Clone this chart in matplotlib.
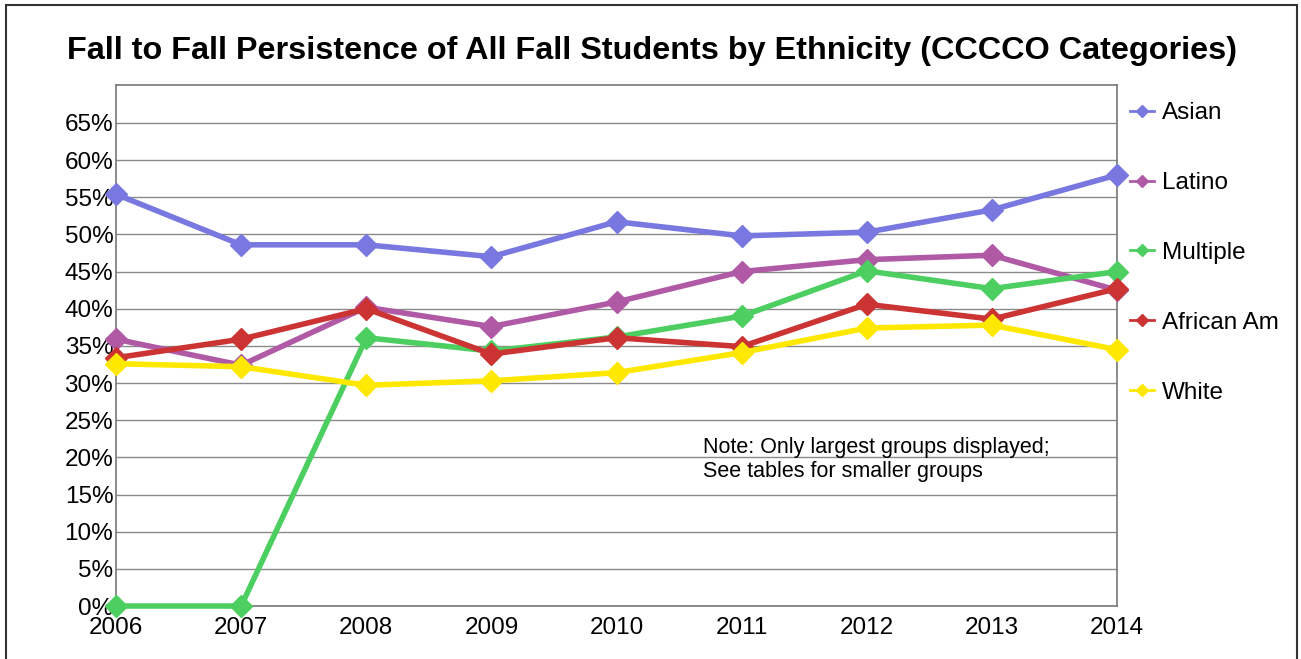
import matplotlib
matplotlib.use("Agg")
import matplotlib.pyplot as plt
from matplotlib.patches import Rectangle

plt.rcParams['font.family'] = ['Liberation Sans', 'DejaVu Sans']

years = [2006, 2007, 2008, 2009, 2010, 2011, 2012, 2013, 2014]
asian = [55.4, 48.6, 48.6, 47.0, 51.7, 49.8, 50.3, 53.3, 58.0]
latino = [35.9, 32.4, 40.2, 37.6, 40.9, 45.0, 46.6, 47.2, 42.5]
multiple = [0.0, 0.0, 36.1, 34.3, 36.2, 39.0, 45.1, 42.7, 45.0]
african_am = [33.4, 35.9, 40.0, 33.9, 36.1, 34.9, 40.6, 38.6, 42.7]
white = [32.6, 32.2, 29.7, 30.3, 31.4, 34.1, 37.4, 37.8, 34.5]

series = [
    ('Asian', asian, '#7878e0'),
    ('Latino', latino, '#b05aa6'),
    ('Multiple', multiple, '#4ccf60'),
    ('African Am', african_am, '#cc3333'),
    ('White', white, '#ffe800'),
]

fig = plt.figure(figsize=(13.01, 6.59), dpi=100)
ax = fig.add_axes([0.0892, 0.0804, 0.7694, 0.7906])

# outer frame
fig.patches.append(Rectangle((6 / 1301, -0.01), 1291 / 1301, 1 - 5 / 659 + 0.01,
                             transform=fig.transFigure, fill=False,
                             edgecolor='#333333', linewidth=1.5))

lines = []
for name, vals, col in series:
    ln, = ax.plot(years, vals, color=col, linewidth=4, marker='D', markersize=11,
                  clip_on=False, zorder=3, label=name)
    lines.append(ln)

ax.set_xlim(2006, 2014)
ax.set_ylim(0, 70.1)
ax.set_xticks(years)
ax.set_xticklabels([str(y) for y in years])
yt = list(range(0, 70, 5))
ax.set_yticks(yt)
ax.set_yticklabels([f'{v}%' for v in yt])
ax.tick_params(axis='both', labelsize=17.5, length=0)
ax.tick_params(axis='y', pad=2)
ax.tick_params(axis='x', pad=8)
ax.grid(axis='y', color='#8a8a8a', linewidth=1)
ax.set_axisbelow(True)
for s in ax.spines.values():
    s.set_color('#777777')
    s.set_linewidth(1.2)

fig.text(0.5015, 0.922, 'Fall to Fall Persistence of All Fall Students by Ethnicity (CCCCO Categories)',
         ha='center', va='center', fontsize=23.3, fontweight='bold')

ax.text(0.586, 0.324, 'Note: Only largest groups displayed;\nSee tables for smaller groups',
        transform=ax.transAxes, ha='left', va='top', fontsize=15.5, linespacing=1.2)

leg = ax.legend(handles=lines, loc='upper left', bbox_to_anchor=(0.991, 1.009),
                frameon=False, fontsize=17.5, labelspacing=1.97, handlelength=1.0,
                handletextpad=0.33, markerscale=0.6)
for h in leg.legend_handles:
    h.set_linewidth(2)

fig.savefig('out.png', dpi=100)
